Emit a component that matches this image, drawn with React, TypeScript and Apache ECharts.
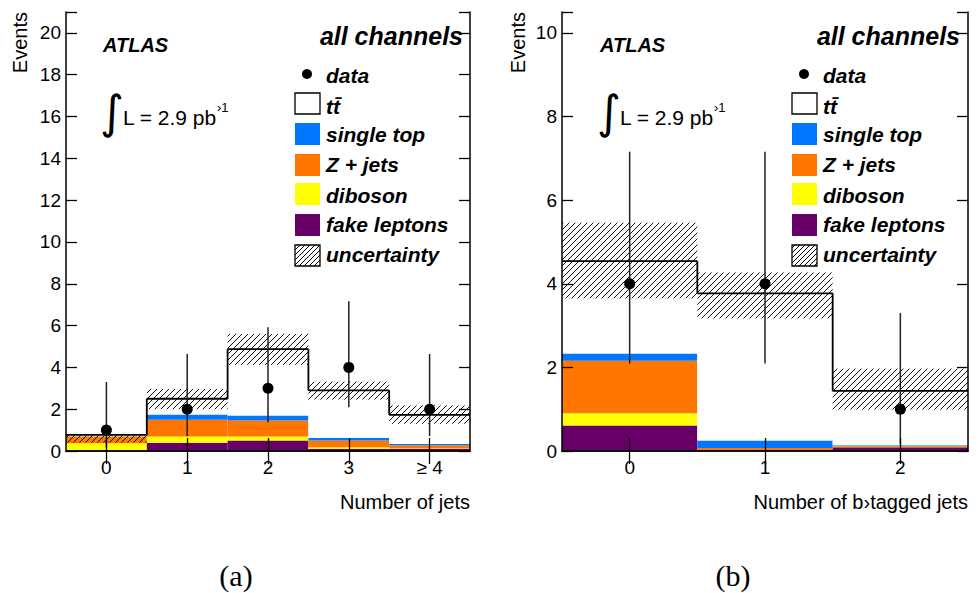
import React, { useEffect, useRef } from "react";
import * as echarts from "echarts";

// ---------- data ----------
const jetCats = ["0", "1", "2", "3", "≥ 4"];
const jetFake = [0.0, 0.39, 0.5, 0.1, 0.1];
const jetDiboson = [0.37, 0.3, 0.19, 0.08, 0.02];
const jetZjets = [0.32, 0.8, 0.77, 0.32, 0.16];
const jetSingleTop = [0.02, 0.26, 0.24, 0.13, 0.06];
const jetTtbar = [0.06, 0.75, 3.17, 2.27, 1.39];
const jetUncLo = [0.4, 2.0, 4.12, 2.46, 1.3];
const jetUncHi = [0.8, 2.97, 5.6, 3.32, 2.18];
const jetData = [1, 2, 3, 4, 2];
const jetDataLo = [0.17, 0.71, 1.37, 2.09, 0.71];
const jetDataHi = [3.3, 4.64, 5.92, 7.16, 4.64];

const bCats = ["0", "1", "2"];
const bFake = [0.61, 0.01, 0.09];
const bDiboson = [0.29, 0.0, 0.01];
const bZjets = [1.26, 0.06, 0.02];
const bSingleTop = [0.17, 0.18, 0.02];
const bTtbar = [2.21, 3.52, 1.3];
const bUncLo = [3.65, 3.17, 0.99];
const bUncHi = [5.46, 4.27, 1.97];
const bData = [4, 4, 1];
const bDataLo = [2.09, 2.09, 0.17];
const bDataHi = [7.16, 7.16, 3.3];

const leftYTicks = [0, 2, 4, 6, 8, 10, 12, 14, 16, 18, 20];
const rightYTicks = [0, 2, 4, 6, 8, 10];

const C_FAKE = "#660066";
const C_DIB = "#ffff00";
const C_Z = "#ff7700";
const C_ST = "#0077ff";
const C_TT = "#ffffff";

const FONT = "Liberation Sans";

function hatch(x0: number, y0: number, x1: number, y1: number, step: number, color = "#000", lw = 1) {
  const out: any[] = [];
  const start = Math.ceil((x0 + y0) / step) * step;
  for (let c = start; c <= x1 + y1; c += step) {
    const xs = Math.max(x0, c - y1);
    const xe = Math.min(x1, c - y0);
    if (xe - xs > 0.3) {
      out.push({
        type: "line",
        shape: { x1: xs, y1: c - xs, x2: xe, y2: c - xe },
        style: { stroke: color, lineWidth: lw },
      });
    }
  }
  return out;
}

function stackRender(stacks: number[][], colors: string[]) {
  return (params: any, api: any) => {
    const i = params.dataIndex;
    const w = api.size([1, 0])[0];
    const cx = api.coord([i, 0])[0];
    const x0 = cx - w / 2;
    let cum = 0;
    const children: any[] = [];
    stacks.forEach((arr, k) => {
      const yb = api.coord([i, cum])[1];
      cum += arr[i];
      const yt = api.coord([i, cum])[1];
      if (yb - yt > 0) {
        children.push({
          type: "rect",
          shape: { x: x0, y: yt, width: w, height: yb - yt },
          style: { fill: colors[k] },
        });
      }
    });
    return { type: "group", children };
  };
}

function bandRender(totals: number[], lo: number[], hi: number[]) {
  return (params: any, api: any) => {
    const i = params.dataIndex;
    const w = api.size([1, 0])[0];
    const cx = api.coord([i, 0])[0];
    const x0 = cx - w / 2;
    const x1 = cx + w / 2;
    const yHi = api.coord([i, hi[i]])[1];
    const yLo = api.coord([i, lo[i]])[1];
    const yT = api.coord([i, totals[i]])[1];
    const children: any[] = hatch(x0, yHi, x1, yLo, 6, "#111", 1);
    children.push({
      type: "line",
      shape: { x1: x0, y1: yT, x2: x1, y2: yT },
      style: { stroke: "#000", lineWidth: 1.8 },
    });
    if (i > 0) {
      const yP = api.coord([i, totals[i - 1]])[1];
      children.push({
        type: "line",
        shape: { x1: x0, y1: yP, x2: x0, y2: yT },
        style: { stroke: "#000", lineWidth: 1.8 },
      });
    }
    return { type: "group", children };
  };
}

function dataRender(vals: number[], lo: number[], hi: number[]) {
  return (params: any, api: any) => {
    const i = params.dataIndex;
    const p = api.coord([i, vals[i]]);
    const pl = api.coord([i, lo[i]]);
    const ph = api.coord([i, hi[i]]);
    return {
      type: "group",
      children: [
        {
          type: "line",
          shape: { x1: p[0], y1: ph[1], x2: p[0], y2: pl[1] },
          style: { stroke: "#222", lineWidth: 1.5 },
        },
        { type: "circle", shape: { cx: p[0], cy: p[1], r: 5.5 }, style: { fill: "#000" } },
      ],
    };
  };
}

function sumArr(arrs: number[][]) {
  return arrs[0].map((_, i) => arrs.reduce((s, a) => s + a[i], 0));
}

function xAxes(grid: number, cats: string[]) {
  const common = {
    gridIndex: grid,
    type: "category",
    data: cats,
    boundaryGap: true,
    z: 10,
    axisLine: { show: true, lineStyle: { color: "#000", width: 1.5 } },
    splitLine: { show: false },
  };
  return [
    {
      ...common,
      position: "bottom",
      axisTick: { show: true, inside: true, alignWithLabel: true, length: 13, lineStyle: { color: "#000", width: 1.3 } },
      axisLabel: { color: "#000", fontSize: 19, fontFamily: FONT, margin: 7 },
    },
    {
      ...common,
      position: "top",
      axisTick: { show: true, inside: true, alignWithLabel: true, length: 13, lineStyle: { color: "#000", width: 1.3 } },
      axisLabel: { show: false },
    },
  ];
}

function yAxes(grid: number, max: number, ticks: number[]) {
  const common = {
    gridIndex: grid,
    type: "value",
    min: 0,
    max,
    interval: 2,
    z: 10,
    axisLine: { show: true, lineStyle: { color: "#000", width: 1.5 } },
    axisTick: { show: true, inside: true, length: 11, lineStyle: { color: "#000", width: 1.3 } },
    splitLine: { show: false },
  };
  return [
    {
      ...common,
      position: "left",
      axisLabel: {
        color: "#000",
        fontSize: 19,
        fontFamily: FONT,
        margin: 5,
        formatter: (v: number) => (ticks.indexOf(v) >= 0 ? String(v) : ""),
      },
    },
    { ...common, position: "right", axisLabel: { show: false } },
  ];
}

function txt(x: number, y: number, text: string, opts: any = {}) {
  const align = opts.align || "left";
  const valign = opts.valign || "middle";
  return {
    type: "text",
    x,
    y,
    rotation: opts.rotation || 0,
    z: 100,
    style: {
      text,
      fill: "#000",
      fontSize: opts.size || 19,
      fontFamily: opts.family || FONT,
      fontWeight: opts.weight || "normal",
      fontStyle: opts.style || "normal",
      align,
      verticalAlign: valign,
      textAlign: align,
      textVerticalAlign: valign,
    },
  };
}

function panelDecor(dx: number, eventsX: number, chanRight: number) {
  const bi = { weight: "bold", style: "italic" };
  const els: any[] = [];
  els.push(txt(eventsX, 12, "Events", { rotation: Math.PI / 2, align: "right", size: 20 }));
  els.push(txt(103 + dx, 45, "ATLAS", { ...bi, size: 20 }));
  els.push(txt(chanRight, 36, "all channels", { ...bi, size: 25, align: "right" }));
  els.push(txt(100 + dx, 112, "∫", { size: 46, family: "DejaVu Sans" }));
  els.push(txt(123 + dx, 117, "L = 2.9 pb", { size: 21 }));
  els.push(txt(217 + dx, 107, "›1", { size: 13 }));
  // legend
  const bx = 295 + dx;
  const tx = 326 + dx;
  els.push({ type: "circle", z: 100, shape: { cx: 307 + dx, cy: 74, r: 5 }, style: { fill: "#000" } });
  els.push(txt(tx, 75, "data", { ...bi, size: 21 }));
  els.push({ type: "rect", z: 100, shape: { x: bx, y: 93, width: 25, height: 21 }, style: { fill: "#fff", stroke: "#000", lineWidth: 1.3 } });
  els.push(txt(tx, 106, "tt\u0304", { ...bi, size: 21 }));
  const boxes: [number, string, string, number][] = [
    [123, C_ST, "single top", 134],
    [154, C_Z, "Z + jets", 164],
    [183, C_DIB, "diboson", 195],
    [214, C_FAKE, "fake leptons", 224],
  ];
  boxes.forEach(([y, col, label, ty]) => {
    els.push({ type: "rect", z: 100, shape: { x: bx, y, width: 25, height: 22 }, style: { fill: col } });
    els.push(txt(tx, ty, label, { ...bi, size: 21 }));
  });
  const hb = hatch(bx, 245, bx + 25, 266, 5);
  els.push({
    type: "group",
    z: 100,
    children: [
      ...hb,
      { type: "rect", shape: { x: bx, y: 245, width: 25, height: 21 }, style: { fill: "none", stroke: "#000", lineWidth: 1.3 } },
    ],
  });
  els.push(txt(tx, 254, "uncertainty", { ...bi, size: 21 }));
  return els;
}

export default function App() {
  const ref = useRef<HTMLDivElement>(null);
  useEffect(() => {
    if (!ref.current) return;
    const chart = echarts.init(ref.current, undefined, { renderer: "svg" });
    const jetStacks = [jetFake, jetDiboson, jetZjets, jetSingleTop, jetTtbar];
    const bStacks = [bFake, bDiboson, bZjets, bSingleTop, bTtbar];
    const colors = [C_FAKE, C_DIB, C_Z, C_ST, C_TT];
    const jetTot = sumArr(jetStacks);
    const bTot = sumArr(bStacks);
    const jetPts = jetCats.map((_, i) => [i, jetTot[i]]);
    const bPts = bCats.map((_, i) => [i, bTot[i]]);
    const jetDataPts = jetCats.map((_, i) => [i, jetData[i]]);
    const bDataPts = bCats.map((_, i) => [i, bData[i]]);

    const mk = (xi: number, yi: number, data: any, render: any) => ({
      type: "custom",
      xAxisIndex: xi,
      yAxisIndex: yi,
      renderItem: render,
      data,
      encode: { x: 0, y: 1 },
      silent: true,
    });

    const option: any = {
      animation: false,
      backgroundColor: "#fff",
      grid: [
        { left: 66, top: 12, width: 404, height: 439 },
        { left: 562, top: 12, width: 406, height: 439 },
      ],
      xAxis: [...xAxes(0, jetCats), ...xAxes(1, bCats)],
      yAxis: [...yAxes(0, 21, leftYTicks), ...yAxes(1, 10.5, rightYTicks)],
      series: [
        mk(0, 0, jetPts, stackRender(jetStacks, colors)),
        mk(0, 0, jetPts, bandRender(jetTot, jetUncLo, jetUncHi)),
        mk(0, 0, jetDataPts, dataRender(jetData, jetDataLo, jetDataHi)),
        mk(2, 2, bPts, stackRender(bStacks, colors)),
        mk(2, 2, bPts, bandRender(bTot, bUncLo, bUncHi)),
        mk(2, 2, bDataPts, dataRender(bData, bDataLo, bDataHi)),
      ],
      graphic: [
        ...panelDecor(0, 20, 463),
        ...panelDecor(497, 518, 960),
        txt(470, 502, "Number of jets", { align: "right", size: 20 }),
        txt(968, 502, "Number of b›tagged jets", { align: "right", size: 20 }),
        txt(236, 575, "(a)", { align: "center", size: 30, family: "Liberation Serif" }),
        txt(733, 575, "(b)", { align: "center", size: 30, family: "Liberation Serif" }),
      ],
    };
    chart.setOption(option);
    return () => chart.dispose();
  }, []);
  return <div ref={ref} style={{ position: "fixed", left: 0, top: 0, width: 979, height: 593 }} />;
}
